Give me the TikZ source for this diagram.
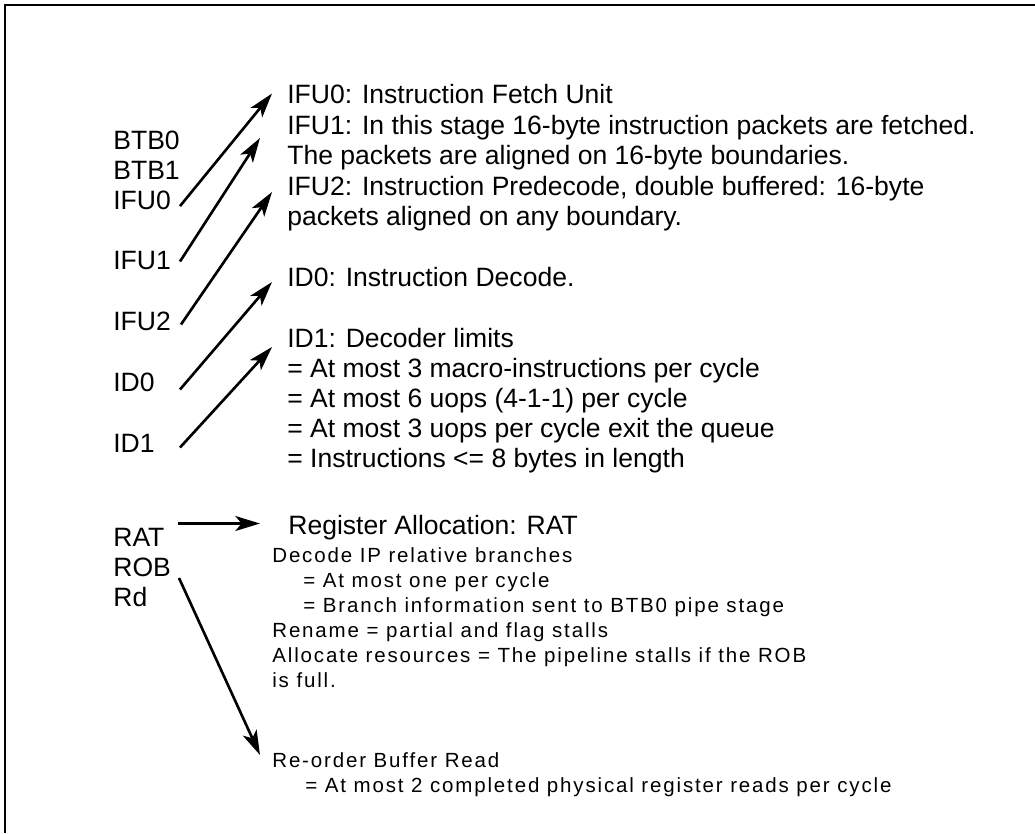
\documentclass[tikz,border=0pt]{standalone}
\usepackage{fontspec}
\setmainfont{Liberation Sans}
\newfontfamily\spacedfont[LetterSpace=9]{Liberation Sans}
\usetikzlibrary{arrows.meta,calc}
\newcommand{\stagefont}{\fontsize{15.1pt}{17.07pt}\selectfont}
\newcommand{\notefont}{\spacedfont\fontsize{11.67pt}{14.23pt}\selectfont}
\tikzset{
  lbl/.style={font=\stagefont,inner sep=0pt,anchor=base west,align=left},
  txt/.style={font=\stagefont,inner sep=0pt,anchor=base west,align=left},
  note/.style={font=\notefont,inner sep=0pt,anchor=base west,align=left},
  ar/.style={-{Stealth[length=14pt,width=8.5pt,inset=3.5pt]},line width=1.5pt},
}

\begin{document}
\begin{tikzpicture}[x=0.02cm,y=-0.02cm]
\fill[white] (0,0) rectangle (1035,833);
\useasboundingbox (0,0) rectangle (1035,833);
\draw[line width=1.1pt] (5,833) -- (5,5) -- (1035,5);

\node[lbl] (btbl) at (113,209.5) {BTB0\\BTB1\\IFU0};
\node[lbl] (ifu1l) at (113,269.5) {IFU1};
\node[lbl] (ifu2l) at (113,330.5) {IFU2};
\node[lbl] (id0l) at (113,391.5) {ID0};
\node[lbl] (id1l) at (113,452.5) {ID1};
\node[lbl] (ratl) at (113,606.5) {RAT\\ROB\\Rd};

\node[txt] (ifu0t) at (287,103.5) {IFU0: Instruction Fetch Unit};
\node[txt] (ifu1t) at (287,164) {IFU1: In this stage 16-byte instruction packets are fetched.\\The packets are aligned on 16-byte boundaries.};
\node[txt] (ifu2t) at (287,225) {IFU2: Instruction Predecode, double buffered: 16-byte\\packets aligned on any boundary.};
\node[txt] (id0t) at (287,286) {ID0: Instruction Decode.};
\node[txt] (id1t) at (287,467) {ID1: Decoder limits\\= At most 3 macro-instructions per cycle\\= At most 6 uops (4-1-1) per cycle\\= At most 3 uops per cycle exit the queue\\= Instructions <= 8 bytes in length};
\node[txt] (ratt) at (288,534.5) {Register Allocation: RAT};
\node[note] (ratn) at (272,687.5) {Decode IP relative branches\\\hspace*{6.2mm}= At most one per cycle\\\hspace*{6.2mm}= Branch information sent to BTB0 pipe stage\\Rename = partial and flag stalls\\Allocate resources = The pipeline stalls if the ROB\\is full.};
\node[note] (robt) at (272,792.5) {Re-order Buffer Read\\\hspace*{6.6mm}= At most 2 completed physical register reads per cycle};

\draw[ar] ($(btbl.south west)+(67,-4)$) -- ($(ifu0t.base west)+(-15,-10)$);
\draw[ar] ($(ifu1l.base west)+(67,-8)$) -- ($(ifu1t.base west)+(-27,-26)$);
\draw[ar] ($(ifu2l.base west)+(68,-6)$) -- ($(ifu2t.base west)+(-15,-33)$);
\draw[ar] ($(id0l.base west)+(67,-2)$) -- ($(id0t.base west)+(-15,-4)$);
\draw[ar] ($(id1l.base west)+(67,-5)$) -- ($(id1t.base west)+(-15,-120)$);
\draw[ar] ($(ratl.base west)+(65,-83)$) -- ($(ratt.base west)+(-28,-11)$);
\draw[ar] ($(ratl.base west)+(66,-28.5)$) -- ($(robt.base west)+(-12,-37.5)$);
\end{tikzpicture}
\end{document}
